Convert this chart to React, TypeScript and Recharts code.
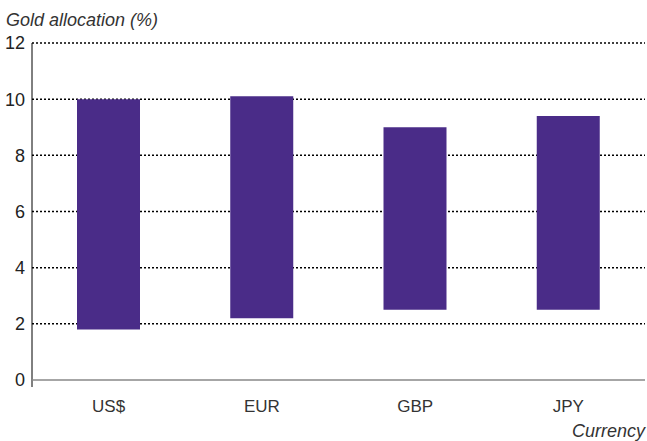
import React from "react";
import { BarChart, Bar, XAxis, YAxis, CartesianGrid, ReferenceLine } from "recharts";

const currencies = ["US$", "EUR", "GBP", "JPY"];
const lowValues = [1.8, 2.2, 2.5, 2.5];
const highValues = [10.0, 10.1, 9.0, 9.4];
const yTicks = [0, 2, 4, 6, 8, 10, 12];
const boundaryTicks = [0, 1, 2, 3, 4];

const data = currencies.map((c, i) => ({
  currency: c,
  pos: i + 0.5,
  range: [lowValues[i], highValues[i]],
}));

const FONT = '"Liberation Sans", Arial, Helvetica, sans-serif';

export default function App() {
  return (
    <div style={{ position: "absolute", left: 0, top: 0, width: 647, height: 441, fontFamily: FONT }}>
      <div
        style={{
          position: "absolute",
          left: 6,
          top: 11,
          fontSize: 18,
          lineHeight: "18px",
          fontStyle: "italic",
          color: "#333",
        }}
      >
        Gold allocation (%)
      </div>
      <div
        style={{
          position: "absolute",
          right: 2,
          top: 422,
          fontSize: 18,
          lineHeight: "18px",
          fontStyle: "italic",
          color: "#333",
        }}
      >
        Currency
      </div>
      <BarChart
        width={647}
        height={441}
        data={data}
        margin={{ top: 43, right: 2, left: 0, bottom: 0 }}
        style={{ position: "absolute", left: 0, top: 0 }}
      >
        <CartesianGrid
          xAxisId="a_num"
          vertical={false}
          horizontalValues={[2, 4, 6, 8, 10, 12]}
          stroke="#000"
          strokeDasharray="2 2"
          strokeWidth={1.5}
        />
        <XAxis
          xAxisId="b_cat"
          dataKey="currency"
          height={54}
          axisLine={false}
          tickLine={false}
          tickSize={0}
          tickMargin={13}
          tick={{ fill: "#333", fontSize: 17, fontFamily: FONT }}
        />
        <XAxis
          xAxisId="a_num"
          type="number"
          dataKey="pos"
          domain={[0, 4]}
          ticks={boundaryTicks}
          height={7}
          tick={false}
          tickSize={7}
          axisLine={{ stroke: "#888", strokeWidth: 1.5 }}
          tickLine={{ stroke: "#888", strokeWidth: 1.5 }}
        />
        <YAxis
          domain={[0, 12]}
          ticks={yTicks}
          width={32}
          axisLine={false}
          tickLine={false}
          tickSize={0}
          tickMargin={7}
          tick={{ fill: "#222", fontSize: 18, fontFamily: FONT }}
        />
        <Bar xAxisId="b_cat" dataKey="range" fill="#4a2c88" barSize={63} isAnimationActive={false} />
        <ReferenceLine
          xAxisId="a_num"
          segment={[
            { x: 0, y: -0.25 },
            { x: 0, y: 12 },
          ]}
          stroke="#000"
          strokeWidth={1}
          ifOverflow="visible"
        />
      </BarChart>
    </div>
  );
}
